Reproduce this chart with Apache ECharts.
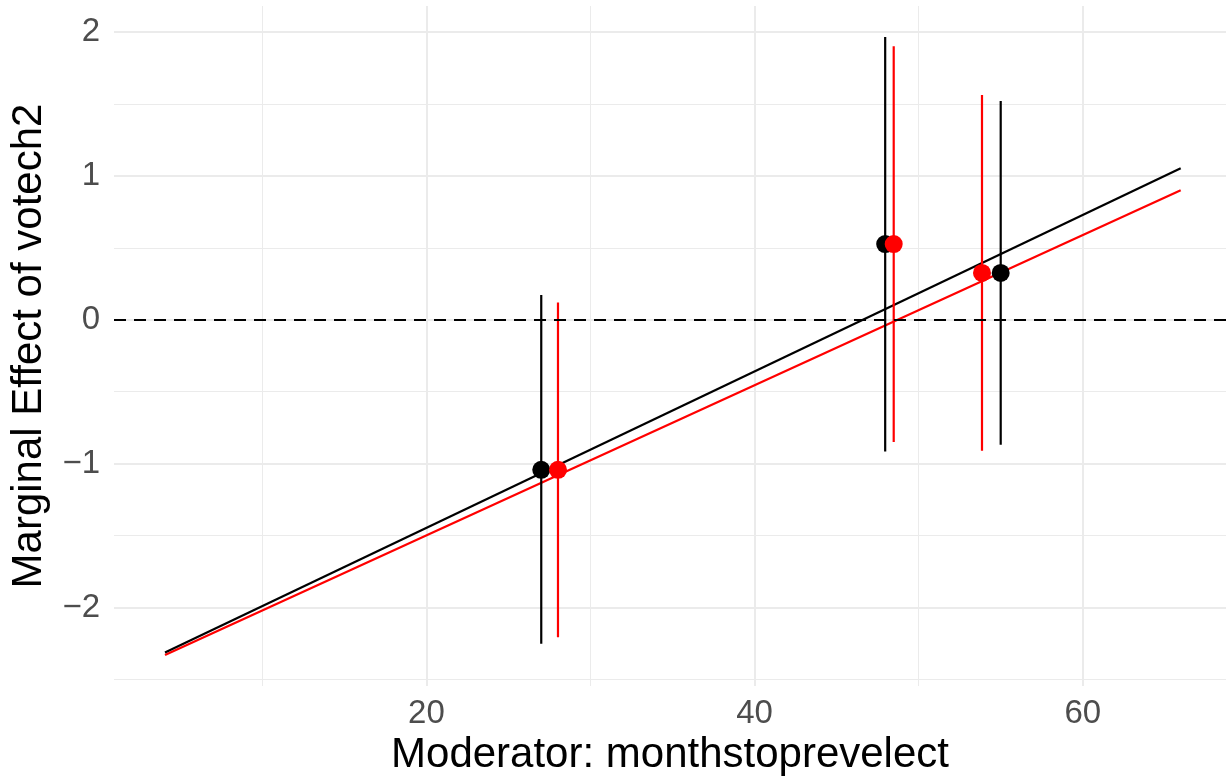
<!DOCTYPE html>
<html>
<head>
<meta charset="utf-8">
<title>Marginal Effect of votech2</title>
<script src="https://cdn.jsdelivr.net/npm/echarts@6/dist/echarts.min.js"></script>
<style>
  html, body { margin: 0; padding: 0; background: #ffffff; }
  #chart { width: 1226px; height: 783px; }
</style>
</head>
<body>
<div id="chart"></div>
<script>
// Moderator values of the binned estimates and their 95% intervals
const blackBinX  = [27.0, 47.96, 55.0];
const blackBinY  = [-1.043, 0.526, 0.325];
const blackBinLo = [-2.252, -0.916, -0.869];
const blackBinHi = [0.172, 1.965, 1.520];

const redBinX  = [28.02, 48.48, 53.86];
const redBinY  = [-1.043, 0.526, 0.325];
const redBinLo = [-2.206, -0.850, -0.911];
const redBinHi = [0.120, 1.900, 1.562];

// Linear marginal-effect fits (end points of each line)
const fitX      = [4.07, 65.97];
const blackFitY = [-2.313, 1.052];
const redFitY   = [-2.330, 0.900];

// Axis ticks
const xMajorTicks = [20, 40, 60];
const xMinorTicks = [10, 30, 50];
const yMajorTicks = [-2, -1, 0, 1, 2];
const yMinorTicks = [-2.5, -1.5, -0.5, 0.5, 1.5];

const FONT = '"Liberation Sans", Arial, Helvetica, sans-serif';
const GRID_COLOR = '#EBEBEB';
const LINE_W = 2.2;

const pairs = (xs, ys) => xs.map((x, i) => [x, ys[i]]);
const bars = (xs, lo, hi) => xs.map((x, i) => [x, lo[i], hi[i]]);

function errorBar(color) {
  return function (params, api) {
    const top = api.coord([api.value(0), api.value(2)]);
    const bottom = api.coord([api.value(0), api.value(1)]);
    return {
      type: 'line',
      shape: { x1: top[0], y1: top[1], x2: bottom[0], y2: bottom[1] },
      style: { stroke: color, lineWidth: LINE_W }
    };
  };
}

const xRange = { min: 0.963, max: 68.73 };
const yRange = { min: -2.545, max: 2.18 };

const chart = echarts.init(document.getElementById('chart'), null, { renderer: 'canvas' });

chart.setOption({
  animation: false,
  backgroundColor: '#ffffff',
  grid: { left: 114, right: 0, top: 6, bottom: 97, containLabel: false },
  xAxis: [
    {
      type: 'value', position: 'bottom', ...xRange,
      name: 'Moderator: monthstoprevelect',
      nameLocation: 'middle', nameGap: 46,
      nameTextStyle: { fontFamily: FONT, fontSize: 42, color: '#000000' },
      axisLine: { show: false },
      axisTick: { show: false, customValues: xMajorTicks },
      axisLabel: {
        customValues: xMajorTicks, margin: 11,
        fontFamily: FONT, fontSize: 33, color: '#4D4D4D'
      },
      splitLine: { show: true, lineStyle: { color: GRID_COLOR, width: 2 } }
    },
    {
      type: 'value', position: 'bottom', ...xRange,
      axisLine: { show: false },
      axisTick: { show: false, customValues: xMinorTicks },
      axisLabel: { show: false, customValues: xMinorTicks },
      splitLine: { show: true, lineStyle: { color: GRID_COLOR, width: 1 } }
    }
  ],
  yAxis: [
    {
      type: 'value', position: 'left', ...yRange,
      name: 'Marginal Effect of votech2',
      nameLocation: 'middle', nameGap: 64,
      nameTextStyle: { fontFamily: FONT, fontSize: 42, color: '#000000' },
      axisLine: { show: false },
      axisTick: { show: false, customValues: yMajorTicks },
      axisLabel: {
        customValues: yMajorTicks, margin: 14,
        fontFamily: FONT, fontSize: 33, color: '#4D4D4D',
        formatter: v => (v < 0 ? '\u2212' + Math.abs(v) : String(v))
      },
      splitLine: { show: true, lineStyle: { color: GRID_COLOR, width: 2 } }
    },
    {
      type: 'value', position: 'left', ...yRange,
      axisLine: { show: false },
      axisTick: { show: false, customValues: yMinorTicks },
      axisLabel: { show: false, customValues: yMinorTicks },
      splitLine: { show: true, lineStyle: { color: GRID_COLOR, width: 1 } }
    }
  ],
  series: [
    {
      // zero reference line
      type: 'line', data: [], silent: true,
      markLine: {
        symbol: 'none', silent: true, label: { show: false },
        lineStyle: { color: '#000000', type: [12, 8], width: LINE_W },
        data: [{ yAxis: 0 }]
      }
    },
    {
      type: 'line', data: pairs(fitX, redFitY), showSymbol: false,
      lineStyle: { color: '#FF0000', width: LINE_W }, z: 3
    },
    {
      type: 'line', data: pairs(fitX, blackFitY), showSymbol: false,
      lineStyle: { color: '#000000', width: LINE_W }, z: 3
    },
    {
      type: 'custom', renderItem: errorBar('#000000'),
      data: bars(blackBinX, blackBinLo, blackBinHi),
      encode: { x: 0, y: [1, 2] }, z: 4
    },
    {
      type: 'custom', renderItem: errorBar('#FF0000'),
      data: bars(redBinX, redBinLo, redBinHi),
      encode: { x: 0, y: [1, 2] }, z: 4
    },
    {
      type: 'scatter', data: pairs(blackBinX, blackBinY),
      symbol: 'circle', symbolSize: 18,
      itemStyle: { color: '#000000', opacity: 1 }, z: 5
    },
    {
      type: 'scatter', data: pairs(redBinX, redBinY),
      symbol: 'circle', symbolSize: 18,
      itemStyle: { color: '#FF0000', opacity: 1 }, z: 6
    }
  ]
});
</script>
</body>
</html>
